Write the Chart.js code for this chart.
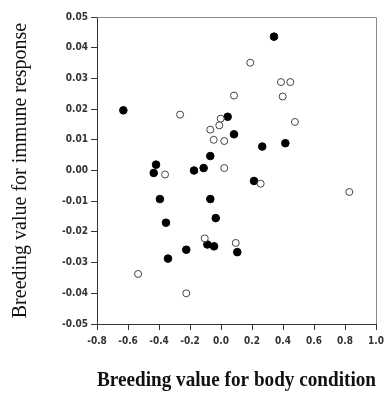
<!DOCTYPE html>
<html>
<head>
<meta charset="utf-8">
<script src="https://cdn.jsdelivr.net/npm/chart.js@4.4.0/dist/chart.umd.min.js"></script>
<style>
  html, body { margin: 0; padding: 0; background: #fff; }
  #wrap { width: 389px; height: 393px; position: relative; }
</style>
</head>
<body>
<div id="wrap"><canvas id="scatterChart"></canvas></div>
<script>
// open circles
const openX = [0.189, 0.387, 0.447, 0.084, 0.398, -0.264, -0.002, 0.477, -0.011, -0.069, -0.047, 0.021,
  -0.361, 0.021, 0.256, 0.828, -0.105, 0.095, -0.535, -0.224];
const openY = [0.0351, 0.0288, 0.0288, 0.0244, 0.0241, 0.0182, 0.0169, 0.0158, 0.0147, 0.0133, 0.0100, 0.0096,
  -0.0013, 0.0008, -0.0043, -0.0070, -0.0221, -0.0236, -0.0337, -0.0400];
// filled circles
const filledX = [0.342, -0.630, 0.043, 0.084, 0.266, 0.415, -0.069, -0.419, -0.434, -0.174, -0.112, 0.213,
  -0.394, -0.069, -0.034, -0.355, -0.088, -0.045, -0.224, 0.105, -0.342];
const filledY = [0.0436, 0.0196, 0.0175, 0.0118, 0.0078, 0.0089, 0.0047, 0.0019, -0.0008, 0.0000, 0.0008, -0.0034,
  -0.0093, -0.0093, -0.0155, -0.0170, -0.0241, -0.0247, -0.0258, -0.0266, -0.0287];

const xTicks = [-0.8, -0.6, -0.4, -0.2, 0.0, 0.2, 0.4, 0.6, 0.8, 1.0];
const yTicks = [-0.05, -0.04, -0.03, -0.02, -0.01, 0.00, 0.01, 0.02, 0.03, 0.04, 0.05];

const xTitle = 'Breeding value for body condition';
const yTitle = 'Breeding value for immune response';

const toPoints = (xs, ys) => xs.map((x, i) => ({ x: x, y: ys[i] }));

// grey frame on the top and right of the plot
const framePlugin = {
  id: 'frame',
  afterDraw(chart) {
    const a = chart.chartArea;
    const ctx = chart.ctx;
    ctx.save();
    ctx.strokeStyle = '#8a8a8a';
    ctx.lineWidth = 1;
    ctx.beginPath();
    ctx.moveTo(a.left, a.top + 0.5);
    ctx.lineTo(a.right + 0.5, a.top + 0.5);
    ctx.lineTo(a.right + 0.5, a.bottom);
    ctx.stroke();
    ctx.restore();
  }
};

const tickFont = { family: 'DejaVu Sans Condensed', size: 10, weight: 'bold' };

new Chart(document.getElementById('scatterChart'), {
  type: 'scatter',
  data: {
    datasets: [
      {
        label: 'open',
        data: toPoints(openX, openY),
        pointRadius: 3.5,
        pointBackgroundColor: '#ffffff',
        pointBorderColor: '#444',
        pointBorderWidth: 1
      },
      {
        label: 'filled',
        data: toPoints(filledX, filledY),
        pointRadius: 3.8,
        pointBackgroundColor: '#000',
        pointBorderColor: '#000',
        pointBorderWidth: 1
      }
    ]
  },
  options: {
    responsive: true,
    maintainAspectRatio: false,
    animation: false,
    layout: { padding: { top: 17, right: 13, left: 0, bottom: 0 } },
    plugins: {
      legend: { display: false },
      tooltip: { enabled: false }
    },
    scales: {
      x: {
        type: 'linear',
        min: -0.8,
        max: 1.0,
        afterBuildTicks: (s) => { s.ticks = xTicks.map(v => ({ value: v })); },
        afterFit: (s) => { s.height = 69; },
        ticks: {
          color: '#333',
          font: tickFont,
          padding: 5,
          maxRotation: 0,
          callback: (v) => v.toFixed(1)
        },
        grid: { display: true, drawOnChartArea: false, drawTicks: true, tickLength: 6, color: '#333' },
        border: { display: true, color: '#333', width: 1 },
        title: {
          display: true,
          text: xTitle,
          color: '#111',
          font: { family: 'Liberation Serif', size: 21, weight: 'bold' },
          padding: { top: 9, bottom: 0 }
        }
      },
      y: {
        type: 'linear',
        min: -0.05,
        max: 0.05,
        afterBuildTicks: (s) => { s.ticks = yTicks.map(v => ({ value: v })); },
        afterFit: (s) => { s.width = 97; },
        ticks: {
          color: '#333',
          font: tickFont,
          padding: 3,
          callback: (v) => v.toFixed(2)
        },
        grid: { display: true, drawOnChartArea: false, drawTicks: true, tickLength: 6, color: '#333' },
        border: { display: true, color: '#333', width: 1 },
        title: {
          display: true,
          text: yTitle,
          color: '#111',
          font: { family: 'Liberation Serif', size: 20 },
          padding: { top: 9, bottom: 0 }
        }
      }
    }
  },
  plugins: [framePlugin]
});
</script>
</body>
</html>
